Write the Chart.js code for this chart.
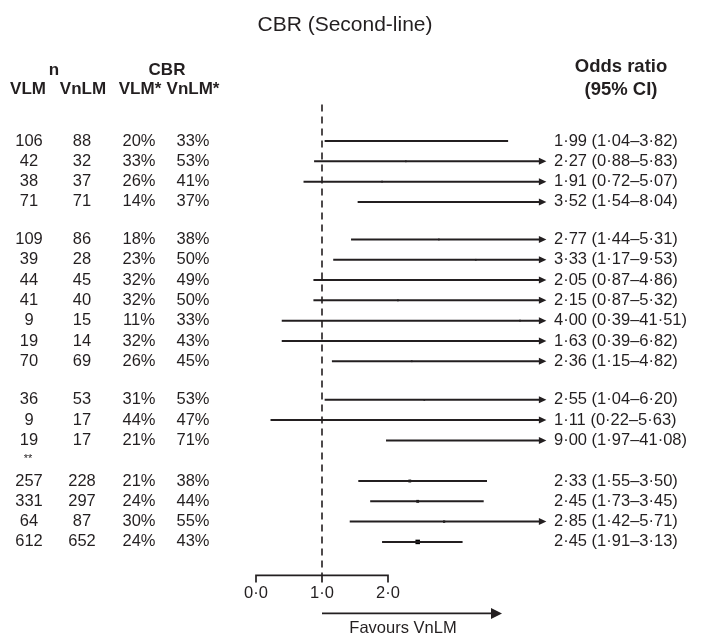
<!DOCTYPE html>
<html>
<head>
<meta charset="utf-8">
<script src="https://cdn.jsdelivr.net/npm/chart.js@4.4.1/dist/chart.umd.min.js"></script>
<style>
html,body{margin:0;padding:0;background:#fff}
#wrap{position:relative;width:703px;height:635px}
</style>
</head>
<body>
<div id="wrap"><canvas id="c"></canvas></div>
<script>
// data (row 15 is the "**" row, no estimate)
const vlmN   =[106,42,38,71, 109,39,44,41,9,19,70, 36,9,19,null,257,331,64,612];
const vnlmN  =[88,32,37,71, 86,28,45,40,15,14,69, 53,17,17,null,228,297,87,652];
const cbrVlm =['20%','33%','26%','14%','18%','23%','32%','32%','11%','32%','26%','31%','44%','21%',null,'21%','24%','30%','24%'];
const cbrVnlm=['33%','53%','41%','37%','38%','50%','49%','50%','33%','43%','45%','53%','47%','71%',null,'38%','44%','55%','43%'];
const orVal  =[1.99,2.27,1.91,3.52, 2.77,3.33,2.05,2.15,4.00,1.63,2.36, 2.55,1.11,9.00,null,2.33,2.45,2.85,2.45];
const ciLo   =[1.04,0.88,0.72,1.54, 1.44,1.17,0.87,0.87,0.39,0.39,1.15, 1.04,0.22,1.97,null,1.55,1.73,1.42,1.91];
const ciHi   =[3.82,5.83,5.07,8.04, 5.31,9.53,4.86,5.32,41.51,6.82,4.82, 6.20,5.63,41.08,null,3.50,3.45,5.71,3.13];
const markSz =[1.2,1.2,1.2,1.2, 1.2,1.2,1.2,1.2,1.2,1.2,1.2, 1.2,1.2,1.2,0,2,2,1.6,3.2];
const xTicks =[0,1,2];

// layout: row slots with blank gaps between groups
const rowY=[0,1,2,3, 4.85,5.85,6.85,7.85,8.85,9.85,10.85, 12.75,13.75,14.75,15.75,16.75,17.75,18.75,19.75];
const X_MAX=4.4, Y_MIN=-1.8, Y_MAX=21.4;
const INK='#231f20';
const FONT='"Liberation Sans", Arial, Helvetica, sans-serif';
const fmt=v=>v.toFixed(2).replace('.','·');

const datasets=[];
// reference line at OR = 1
datasets.push({type:'line',data:[{x:1,y:Y_MIN},{x:1,y:Y_MAX}],borderColor:INK,borderWidth:1.6,borderDash:[7,5],pointRadius:0});
// CI lines
orVal.forEach((v,i)=>{
  if(v==null)return;
  const over=ciHi[i]>X_MAX;
  datasets.push({type:'line',data:[{x:ciLo[i],y:rowY[i]},{x:over?X_MAX-0.09:ciHi[i],y:rowY[i]}],
    borderColor:INK,borderWidth:2,pointRadius:0,arrow:over});
});
// point estimates
const shown=orVal.map((v,i)=>({v,i})).filter(o=>o.v!=null&&o.v<X_MAX);
datasets.push({type:'scatter',
  data:shown.map(o=>({x:o.v,y:rowY[o.i]})),
  pointStyle:'rect',backgroundColor:'#000',borderColor:'#000',borderWidth:0,
  pointRadius:shown.map(o=>markSz[o.i])});

const decor={
  id:'decor',
  afterDatasetsDraw(chart){
    const ctx=chart.ctx, xs=chart.scales.x, ys=chart.scales.y;
    ctx.save();
    ctx.fillStyle=INK; ctx.strokeStyle=INK;
    // arrow heads on clipped CIs
    chart.data.datasets.forEach(ds=>{
      if(!ds.arrow)return;
      const y=ys.getPixelForValue(ds.data[0].y), tip=xs.getPixelForValue(X_MAX);
      ctx.beginPath();ctx.moveTo(tip,y);ctx.lineTo(tip-7.5,y-3.5);ctx.lineTo(tip-7.5,y+3.5);ctx.closePath();ctx.fill();
    });
    // x axis (0 to 2)
    const ay=ys.getPixelForValue(Y_MAX);
    ctx.lineWidth=1.7;
    ctx.beginPath();
    ctx.moveTo(xs.getPixelForValue(xTicks[0]),ay);ctx.lineTo(xs.getPixelForValue(xTicks[xTicks.length-1]),ay);
    xTicks.forEach(t=>{const px=xs.getPixelForValue(t);ctx.moveTo(px,ay-1);ctx.lineTo(px,ay+7);});
    ctx.stroke();
    ctx.font='16.5px '+FONT;ctx.textAlign='center';ctx.textBaseline='middle';
    xTicks.forEach(t=>ctx.fillText(t.toFixed(1).replace('.','·'),xs.getPixelForValue(t),ay+18));
    // favours arrow
    const fx0=xs.getPixelForValue(1), fx1=fx0+180, fy=ay+38;
    ctx.lineWidth=1.7;ctx.beginPath();ctx.moveTo(fx0,fy);ctx.lineTo(fx1-10,fy);ctx.stroke();
    ctx.beginPath();ctx.moveTo(fx1,fy);ctx.lineTo(fx1-11,fy-5.5);ctx.lineTo(fx1-11,fy+5.5);ctx.closePath();ctx.fill();
    ctx.fillText('Favours VnLM',403,fy+15);
    // title
    ctx.font='21px '+FONT;
    ctx.fillText('CBR (Second-line)',345,25);
    // column headers
    ctx.font='bold 17px '+FONT;
    ctx.fillText('n',54,70);ctx.fillText('CBR',167,70);
    ctx.fillText('VLM',28,89);ctx.fillText('VnLM',83,89);ctx.fillText('VLM*',140,89);ctx.fillText('VnLM*',193,89);
    ctx.font='bold 18.5px '+FONT;
    ctx.fillText('Odds ratio',621,67);ctx.fillText('(95% CI)',621,90);
    // table rows
    ctx.font='16.5px '+FONT;
    rowY.forEach((r,i)=>{
      const y=ys.getPixelForValue(r);
      ctx.textAlign='center';
      if(vlmN[i]==null){ctx.font='11px '+FONT;ctx.fillText('**',28,y-2);ctx.font='16.5px '+FONT;return;}
      ctx.fillText(String(vlmN[i]),29,y);
      ctx.fillText(String(vnlmN[i]),82,y);
      ctx.fillText(cbrVlm[i],139,y);
      ctx.fillText(cbrVnlm[i],193,y);
      ctx.textAlign='left';
      ctx.fillText(`${fmt(orVal[i])} (${fmt(ciLo[i])}–${fmt(ciHi[i])})`,554,y);
    });
    ctx.restore();
  }
};

new Chart(document.getElementById('c'),{
  data:{datasets},
  options:{
    responsive:true,maintainAspectRatio:false,animation:false,
    layout:{padding:{left:256,right:703-256-66*X_MAX,top:104.5,bottom:635-575.4}},
    plugins:{legend:{display:false},tooltip:{enabled:false}},
    scales:{
      x:{type:'linear',display:false,min:0,max:X_MAX},
      y:{type:'linear',display:false,reverse:true,min:Y_MIN,max:Y_MAX}
    },
    clip:false
  },
  plugins:[decor]
});
</script>
</body>
</html>
